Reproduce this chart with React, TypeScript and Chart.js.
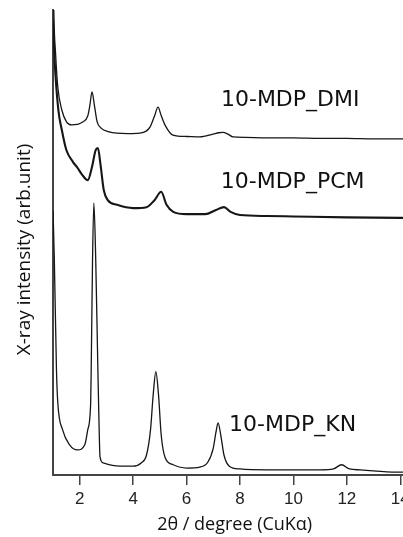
import React, { useEffect, useRef } from "react";
import { Chart, registerables } from "chart.js";

Chart.register(...registerables);

// 2θ (degree) and intensity (arb. unit)
const dmiX = [1.0, 1.03, 1.1, 1.18, 1.33, 1.51, 1.7, 1.9, 2.11, 2.3, 2.38, 2.46, 2.55, 2.65, 2.8, 3.1, 3.39, 3.8, 4.25, 4.5, 4.63, 4.8, 4.93, 5.05, 5.19, 5.49, 6.0, 6.5, 6.99, 7.2, 7.36, 7.55, 7.74, 8.2, 9.0, 10, 11, 12, 13, 14, 15];
const dmiY = [115, 100, 90.3, 83.4, 78.5, 75.9, 75.3, 75.4, 75.9, 77.2, 79.5, 82.4, 79.5, 76.0, 74.6, 73.8, 73.5, 73.4, 73.5, 74.0, 74.8, 77.2, 79.1, 77.3, 75.3, 73.1, 72.8, 72.7, 73.3, 73.6, 73.7, 73.3, 72.7, 72.6, 72.5, 72.5, 72.4, 72.4, 72.3, 72.3, 72.3];

const pcmX = [1.0, 1.06, 1.2, 1.33, 1.5, 1.75, 1.9, 2.1, 2.3, 2.45, 2.6, 2.68, 2.78, 2.9, 3.05, 3.4, 4.0, 4.5, 4.8, 5.05, 5.25, 5.5, 6.0, 6.7, 7.1, 7.4, 7.65, 8.0, 9.0, 10, 12, 14, 15];
const pcmY = [97.8, 89.2, 78.5, 74.2, 69.9, 67.3, 66.2, 64.5, 63.4, 66.0, 69.9, 70.3, 66.7, 61.3, 59.1, 58.1, 57.4, 57.6, 59.1, 60.9, 58.1, 56.6, 56.1, 56.1, 57.0, 57.6, 56.6, 55.9, 55.7, 55.6, 55.4, 55.3, 55.3];

const knX = [1.0, 1.05, 1.13, 1.18, 1.36, 1.62, 1.92, 2.19, 2.3, 2.41, 2.43, 2.48, 2.53, 2.6, 2.68, 2.72, 2.76, 2.88, 3.5, 4.0, 4.3, 4.5, 4.65, 4.75, 4.85, 4.95, 5.05, 5.2, 5.5, 6.0, 6.5, 6.8, 7.0, 7.1, 7.18, 7.28, 7.4, 7.6, 8.0, 9.0, 10, 11, 11.5, 11.8, 12.1, 12.5, 13, 14, 15];
const knY = [57.0, 46.2, 22.6, 15.5, 9.7, 6.5, 5.4, 6.5, 9.7, 15.5, 22.6, 46.2, 58.5, 46.2, 22.6, 11.8, 3.9, 2.6, 1.9, 1.9, 2.6, 4.3, 9.7, 17.2, 22.2, 17.2, 8.6, 3.7, 2.2, 1.5, 1.7, 2.8, 5.8, 9.2, 11.2, 8.6, 4.3, 1.9, 1.3, 1.1, 1.1, 1.1, 1.3, 2.2, 1.3, 1.1, 0.9, 0.6, 0.6];

const xTicks = [2, 4, 6, 8, 10, 12, 14];

const seriesNames = ["10-MDP_DMI", "10-MDP_PCM", "10-MDP_KN"];
const labelX = [9.88, 9.97, 9.97];
const labelY = [80.6, 63.0, 10.75];

const xTitle = "2θ / degree (CuKα)";
const yTitle = "X-ray intensity (arb.unit)";

const toPts = (xs: number[], ys: number[]) => xs.map((x, i) => ({ x, y: ys[i] }));

const textPlugin = {
  id: "texts",
  afterDraw(chart: any) {
    const { ctx, scales } = chart;
    const xs = scales.x;
    const ys = scales.y;
    ctx.save();
    ctx.fillStyle = "#111";
    ctx.textAlign = "center";
    ctx.textBaseline = "middle";
    ctx.font = "22px 'DejaVu Sans'";
    seriesNames.forEach((n, i) => {
      ctx.fillText(n, xs.getPixelForValue(labelX[i]), ys.getPixelForValue(labelY[i]));
    });
    ctx.font = "18px 'Open Sans'";
    ctx.fillText(xTitle, xs.getPixelForValue(7.8), 525);
    ctx.translate(25, ys.getPixelForValue(48.5));
    ctx.rotate(-Math.PI / 2);
    ctx.font = "19px 'Open Sans'";
    ctx.fillText(yTitle, 0, 0);
    ctx.restore();
  },
};

export default function App() {
  const ref = useRef<HTMLCanvasElement>(null);
  useEffect(() => {
    if (!ref.current) return;
    const mk = (xs: number[], ys: number[], w: number) => ({
      data: toPts(xs, ys),
      borderColor: "#161616",
      borderWidth: w,
      pointRadius: 0,
      tension: 0,
      cubicInterpolationMode: "monotone" as const,
      fill: false,
    });
    const chart = new Chart(ref.current, {
      type: "line",
      data: {
        datasets: [mk(dmiX, dmiY, 1.3), mk(pcmX, pcmY, 2.1), mk(knX, knY, 1.3)],
      },
      options: {
        animation: false,
        responsive: false,
        layout: { padding: { top: 10, right: 13, left: 0, bottom: 0 } },
        plugins: { legend: { display: false }, tooltip: { enabled: false } },
        scales: {
          x: {
            type: "linear",
            min: 1,
            max: 15,
            afterBuildTicks: (s: any) => {
              s.ticks = xTicks.map((v) => ({ value: v }));
            },
            afterFit: (s: any) => {
              s.height = 62;
            },
            grid: { display: true, drawOnChartArea: false, drawTicks: true, tickLength: 10, color: "#444", lineWidth: 1.5 },
            border: { display: true, color: "#444", width: 2 },
            ticks: { color: "#222", font: { family: "'Liberation Sans'", size: 17 }, padding: 4, maxRotation: 0, autoSkip: false },
          },
          y: {
            min: 0,
            max: 100,
            afterFit: (s: any) => {
              s.width = 53;
            },
            grid: { display: false },
            border: { display: true, color: "#444", width: 2 },
            ticks: { display: false },
          },
        },
      },
      plugins: [textPlugin],
    });
    return () => chart.destroy();
  }, []);
  return (
    <div style={{ position: "absolute", left: 0, top: 0, width: 403, height: 537, overflow: "hidden", background: "#fff" }}>
      <canvas ref={ref} width={440} height={537} style={{ display: "block" }} />
    </div>
  );
}
